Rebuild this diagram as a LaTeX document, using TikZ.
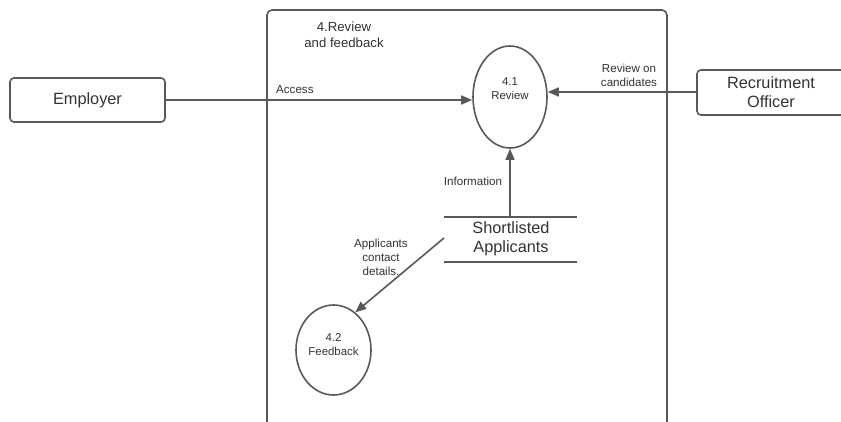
\documentclass[tikz,border=0pt]{standalone}
\usepackage{fontspec}
\setmainfont{Liberation Sans}
\usetikzlibrary{arrows.meta,shapes.geometric}
\definecolor{ln}{HTML}{595959}
\definecolor{tx}{HTML}{333333}
\tikzset{
  x=1pt, y=-1pt,
  flow/.style={draw=ln, line width=1.6pt, -{Triangle[length=11pt,width=9pt]}},
  entity/.style={draw=ln, line width=1.6pt, rounded corners=4pt, rectangle, text=tx,
    font=\fontsize{16.3}{19}\selectfont, align=center, inner sep=0pt},
  proc/.style={draw=ln, line width=1.6pt, ellipse, inner sep=0pt},
  lbl/.style={text=tx, font=\fontsize{11.6}{14}\selectfont, align=center, inner sep=0pt},
}
\begin{document}
\begin{tikzpicture}
\useasboundingbox (0,0) rectangle (841,421);
\clip (0,0) rectangle (841,421);
\fill[white] (0,0) rectangle (841,421);

% process boundary, open at the bottom
\draw[ln, line width=1.6pt, rounded corners=5pt] (267,440) -- (267,10) -- (667,10) -- (667,440);
\node[lbl, font=\fontsize{13.2}{16}\selectfont] (title) at (344,35) {4.Review\\and feedback};

% external entities
\node[entity, minimum width=155pt, minimum height=44pt] (emp) at (87.5,100) {Employer};
\node[entity, minimum width=148pt, minimum height=45pt] (ro) at (771,92.5) {Recruitment\\Officer};

% processes (labels sit a little above the centre)
\node[proc, minimum width=74pt, minimum height=102pt] (rev) at (510,97) {};
\node[lbl, font=\fontsize{11.4}{14}\selectfont] (revt) at (510,89) {4.1\\Review};
\node[proc, minimum width=75pt, minimum height=90pt] (fb) at (333.5,350) {};
\node[lbl, font=\fontsize{11.4}{14}\selectfont] (fbt) at (333.5,345) {4.2\\Feedback};

% data store
\coordinate (stl) at (444,217);
\coordinate (str) at (577,217);
\coordinate (sbl) at (444,262);
\coordinate (sbr) at (577,262);
\draw[ln, line width=1.6pt] (stl) -- (str);
\draw[ln, line width=1.6pt] (sbl) -- (sbr);
\node[lbl, font=\fontsize{16.3}{19}\selectfont] (store) at (511,239) {Shortlisted\\Applicants};
\coordinate (stin) at (510,217);
\coordinate (stout) at (444,238);

% data flows
\draw[flow] (emp.east) -- (rev.west |- emp.east);
\node[lbl, anchor=base west] (acc) at (276,93) {Access};
\draw[flow] (ro.west |- 0,92) -- (rev.east |- 0,92);
\node[lbl] (roc) at (629,75) {Review on\\candidates};
\draw[flow] (stin) -- (rev.south);
\node[lbl] (info) at (473,181) {Information};
\draw[flow] (stout) -- (fb.60);
\node[lbl] (acd) at (381,257) {Applicants\\contact\\details.};
\end{tikzpicture}
\end{document}
